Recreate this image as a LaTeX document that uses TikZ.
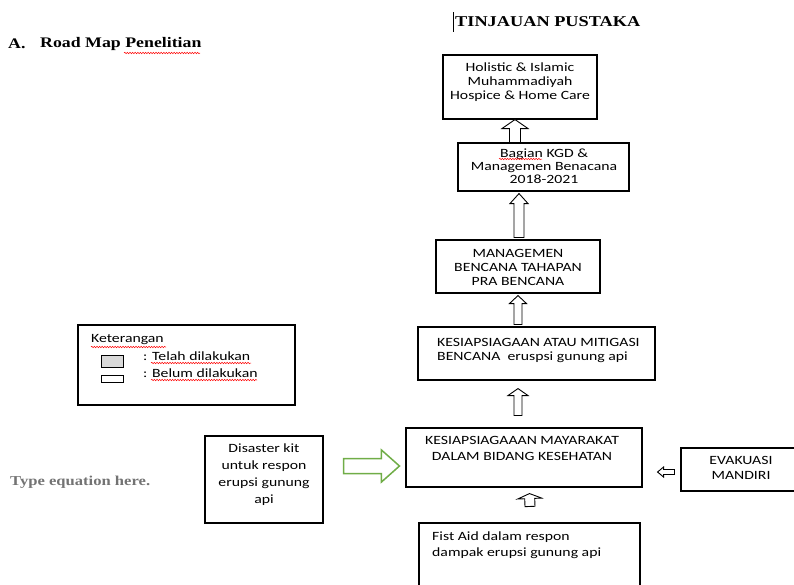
\documentclass[tikz,border=0pt]{standalone}
\usepackage{fontspec}
\usetikzlibrary{calc,decorations.pathmorphing}
\newfontfamily\boxfont{Carlito}[FakeStretch=1.25]
\newfontfamily\headfont{Liberation Serif}[FakeStretch=1.22]
\definecolor{kitgreen}{HTML}{70AD47}
\definecolor{donegray}{HTML}{D9D9D9}

\begin{document}
\begin{tikzpicture}[x=1pt,y=-1pt,
  box/.style={draw, line width=1.1pt, inner sep=0pt},
  txt/.style={inner sep=0pt, align=center, font=\boxfont\fontsize{12.6}{#1}\selectfont},
  txt/.default=14,
  head/.style={inner sep=0pt, anchor=west, font=\headfont\bfseries\fontsize{14.6}{17}\selectfont},
  blk/.style={draw, line width=.9pt, fill=white},
  squig/.style={red, line width=.5pt, decorate, decoration={snake, amplitude=.7pt, segment length=2.6pt}},
  hollow/.style n args={3}{to path={let \p1=(\tikztostart), \p2=(\tikztotarget),
    \n1={atan2(\y2-\y1,\x2-\x1)}, \n2={veclen(\x2-\x1,\y2-\y1)} in
    {[shift={(\p1)}, rotate=\n1] (0pt,-#1) -- (\n2-#3,-#1) -- (\n2-#3,-#2) -- (\n2,0pt)
     -- (\n2-#3,#2) -- (\n2-#3,#1) -- (0pt,#1) -- cycle}}}]
  \useasboundingbox (0,0) rectangle (794,584);

  \node[head, font=\headfont\bfseries\fontsize{15}{17}\selectfont] (judul) at (455,22) {TINJAUAN PUSTAKA};
  \draw[line width=.6pt] (453,12) -- (453,32);
  \node[head] (bagA) at (8,44) {A.};
  \node[head] (roadmap) at (40,44) {Road Map Penelitian};
  \draw[squig] (124,53) -- (200,53);

  \node[box, minimum width=154pt, minimum height=64pt] (hol) at (520,87) {};
  \node[box, minimum width=171pt, minimum height=48pt] (kgd) at (543.5,167) {};
  \node[box, minimum width=164pt, minimum height=53pt] (pra) at (518,266.5) {};
  \node[box, minimum width=237pt, minimum height=53pt] (mit) at (536.5,353.5) {};
  \node[box, minimum width=236pt, minimum height=59pt] (kes) at (524,457.5) {};
  \node[box, minimum width=221pt, minimum height=65pt] (fa) at (529.5,555.5) {};
  \node[box, minimum width=119pt, minimum height=43pt] (eva) at (740.5,469.5) {};
  \node[box, minimum width=118pt, minimum height=87pt] (dk) at (264,479.5) {};
  \node[box, minimum width=217pt, minimum height=80pt] (ket) at (186.5,365) {};

  \node[txt] (hol-t) at (520,82) {Holistic \& Islamic\\Muhammadiyah\\Hospice \& Home Care};
  \node[txt=13] (kgd-t) at (544,166) {Bagian KGD \&\\Managemen Benacana\\2018-2021};
  \draw[squig] (499,159) -- (542,159);
  \node[txt] (pra-t) at (518,267) {MANAGEMEN\\BENCANA TAHAPAN\\PRA BENCANA};
  \node[txt, align=left, anchor=west] (mit-t) at (437,350) {KESIAPSIAGAAN ATAU MITIGASI\\BENCANA~~eruspsi gunung api};
  \node[txt=16] (kes-t) at (522,448) {KESIAPSIAGAAAN MAYARAKAT\\DALAM BIDANG KESEHATAN};
  \node[txt=16, align=left, anchor=west] (fa-t) at (432,545) {Fist Aid dalam respon\\dampak erupsi gunung api};
  \node[txt=15] (eva-t) at (741,468) {EVAKUASI\\MANDIRI};
  \node[txt=17] (dk-t) at (264,475) {Disaster kit\\untuk respon\\erupsi gunung\\api};
  \node[inner sep=0pt, anchor=west, text=black!55, font=\headfont\bfseries\fontsize{13.6}{16}\selectfont] (eq-t) at (10,482) {Type equation here.};

  \node[txt, anchor=west] (ket-t) at (91,340) {Keterangan};
  \draw[squig] (91,347) -- (166,347);
  \node[box, line width=.9pt, fill=donegray, minimum width=22pt, minimum height=12pt] (done) at (112,361) {};
  \node[box, line width=.9pt, minimum width=22pt, minimum height=7pt] (todo) at (112,378.5) {};
  \node[txt, anchor=west] (done-t) at (143,356) {: Telah dilakukan};
  \node[txt, anchor=west] (todo-t) at (143,373) {: Belum dilakukan};
  \draw[squig] (151,363) -- (251,363);
  \draw[squig] (151,380) -- (257,380);

  \draw[blk, hollow={5.5pt}{13pt}{9pt}] ([xshift=-28.5pt]kgd.north) to ([xshift=-5pt]hol.south);
  \draw[blk, hollow={5pt}{9pt}{10pt}] ([xshift=1pt,yshift=2pt]pra.north) to ([xshift=-24.5pt,yshift=-2pt]kgd.south);
  \draw[blk, hollow={4pt}{8.5pt}{8pt}] ([xshift=-18.5pt,yshift=2pt]mit.north) to ([yshift=-2pt]pra.south);
  \draw[blk, hollow={4pt}{10pt}{7pt}] ([xshift=-6pt,yshift=12pt]kes.north) to ([xshift=-18.5pt,yshift=-8pt]mit.south);
  \draw[blk, hollow={5pt}{12pt}{5pt}] ([xshift=.5pt,yshift=16pt]fa.north) to ([xshift=5.5pt,yshift=-6pt]kes.south);
  \draw[blk, hollow={2.5pt}{5pt}{6pt}] ([xshift=-6pt,yshift=-2.5pt]eva.west) to ([xshift=15pt,yshift=-14.5pt]kes.east);
  \draw[blk, draw=kitgreen, line width=1.5pt, hollow={7.5pt}{16pt}{18pt}] ([xshift=20pt,yshift=13.5pt]dk.east) to ([xshift=-6pt,yshift=-8.5pt]kes.west);
\end{tikzpicture}
\end{document}
